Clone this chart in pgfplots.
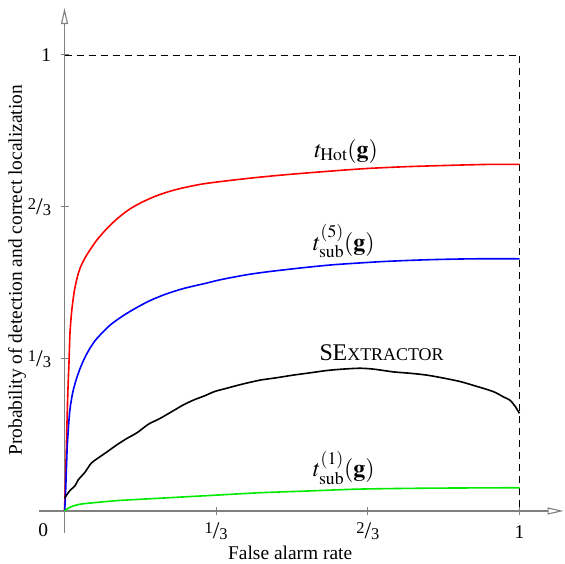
\documentclass[border=0pt]{standalone}
\usepackage{mathptmx}
\usepackage{fontspec}
\setmainfont{Liberation Serif}
\usepackage{pgfplots}
\pgfplotsset{compat=1.18}
\usetikzlibrary{arrows.meta}

\newcommand\fs{\fontsize{19.5}{23}\selectfont}
\newcommand\mfs{\fontsize{24}{28}\selectfont}
\newcommand\sm{\fontsize{16.5}{17}\selectfont}
\newcommand\frc[2]{\raisebox{5bp}{\sm #1}{\fontsize{24}{26}\selectfont/}\raisebox{-1bp}{\sm #2}}
\definecolor{brightgreen}{RGB}{0,235,0}

\begin{document}
\begin{tikzpicture}
\begin{axis}[
    x=455bp, y=456bp,
    xmin=-0.056, xmax=1.097,
    ymin=-0.048, ymax=1.103,
    axis lines=middle,
    axis line style={gray, line width=1.1bp, -{Triangle[open, length=16bp, width=7bp]}},
    xtick={0.33333,0.66667,1},
    xticklabels={\frc{1}{3},\frc{2}{3},1},
    ytick={0.33333,0.66667,1},
    yticklabels={\frc{1}{3},\frc{2}{3},1},
    tick align=center,
    major tick length=8bp,
    tick style={gray, line width=1bp},
    tick label style={font=\fs},
    xticklabel style={anchor=base, yshift=-24bp},
    yticklabel style={anchor=east, xshift=-6bp},
    every axis plot/.append style={line width=1.6bp, smooth, tension=0.45},
    clip=false,
  ]
  % dashed frame at rate 1
  \draw[black, line width=0.9bp, dash pattern=on 7bp off 5bp]
    (axis cs:0,1) -- (axis cs:1,1) -- (axis cs:1,0);

  % t_Hot
  \addplot[red] coordinates {
    (0,0) (0.003,0.10) (0.007,0.25) (0.010,0.33) (0.012,0.39) (0.016,0.44)
    (0.022,0.485) (0.030,0.52) (0.037,0.539) (0.045,0.555) (0.055,0.571)
    (0.071,0.594) (0.09,0.616) (0.108,0.634) (0.128,0.651) (0.148,0.665)
    (0.172,0.678) (0.199,0.690) (0.228,0.700) (0.258,0.708) (0.309,0.718)
    (0.40,0.729) (0.481,0.737) (0.58,0.745) (0.664,0.751) (0.75,0.755)
    (0.847,0.758) (0.93,0.760) (1.0,0.760)
  };
  % t_sub^(5)
  \addplot[blue] coordinates {
    (0,0) (0.002,0.031) (0.006,0.141) (0.011,0.214) (0.015,0.243) (0.019,0.264)
    (0.026,0.289) (0.034,0.312) (0.044,0.335) (0.056,0.357) (0.07,0.377)
    (0.094,0.402) (0.107,0.413) (0.13,0.429) (0.155,0.444) (0.185,0.460)
    (0.221,0.475) (0.262,0.488) (0.309,0.499) (0.342,0.507) (0.40,0.518)
    (0.45,0.525) (0.52,0.533) (0.591,0.540) (0.7,0.547) (0.8,0.551)
    (0.9,0.553) (1.0,0.553)
  };
  % SExtractor
  \addplot[black] coordinates {
    (0,0.028) (0.012,0.045) (0.023,0.055) (0.03,0.068) (0.045,0.085)
    (0.059,0.105) (0.078,0.119) (0.094,0.130) (0.115,0.145) (0.137,0.159)
    (0.16,0.172) (0.184,0.190) (0.21,0.203) (0.236,0.218) (0.26,0.232)
    (0.283,0.243) (0.309,0.253) (0.33,0.262) (0.356,0.269) (0.39,0.278)
    (0.43,0.287) (0.465,0.292) (0.503,0.298) (0.54,0.303) (0.576,0.308)
    (0.61,0.311) (0.649,0.313) (0.68,0.311) (0.723,0.305) (0.76,0.302)
    (0.796,0.298) (0.83,0.292) (0.869,0.284) (0.9,0.275) (0.942,0.262)
    (0.965,0.250) (0.979,0.243) (0.99,0.230) (1.0,0.214)
  };
  % t_sub^(1)
  \addplot[brightgreen] coordinates {
    (0,0) (0.008,0.006) (0.019,0.011) (0.035,0.015) (0.063,0.018) (0.12,0.023)
    (0.21,0.028) (0.32,0.034) (0.43,0.040) (0.54,0.044) (0.649,0.048)
    (0.8,0.050) (1.0,0.051)
  };

  \node[font=\mfs, anchor=base] at (axis cs:0.619,0.776) {$t_{\mathrm{Hot}}(\mathbf{g})$};
  \node[font=\mfs, anchor=base] at (axis cs:0.614,0.572) {$t^{(5)}_{\mathrm{sub}}(\mathbf{g})$};
  \node[font=\fs, anchor=base] at (axis cs:0.697,0.329)
    {{\fontsize{24}{26}\selectfont S\kern-0.01emE}{\fontsize{18}{20}\selectfont XTRACTOR}};
  \node[font=\mfs, anchor=base] at (axis cs:0.614,0.075) {$t^{(1)}_{\mathrm{sub}}(\mathbf{g})$};

  \node[font=\fs] at (axis cs:-0.047,-0.042) {0};
  \node[font=\fs] at (axis cs:0.496,-0.092) {False alarm rate};
  \node[font=\fs, rotate=90] at (axis cs:-0.104,0.528) {Probability of detection and correct localization};

  \coordinate (bl) at (axis cs:-0.1418,-0.1162);
  \coordinate (tr) at (axis cs:1.1,1.1206);
\end{axis}
\pgfresetboundingbox
\path[use as bounding box] (bl) rectangle (tr);
\end{tikzpicture}
\end{document}
